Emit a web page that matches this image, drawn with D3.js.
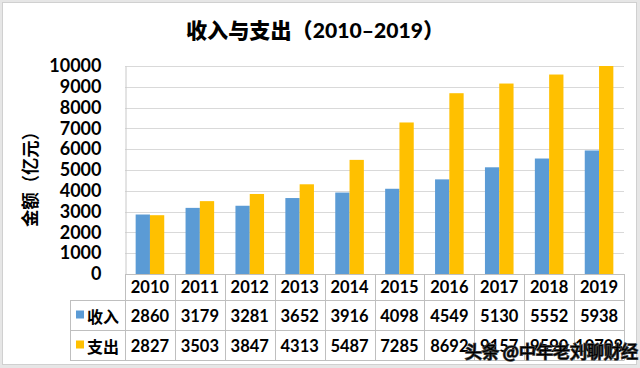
<!DOCTYPE html>
<html><head><meta charset="utf-8">
<script src="https://cdn.jsdelivr.net/npm/d3@7"></script>
<style>
html,body{margin:0;padding:0;background:#fff;}
text{font-family:"Lato","Noto Sans CJK SC",sans-serif;font-weight:bold;fill:#000;}
</style></head>
<body>
<svg id="c" width="640" height="368"></svg>
<script>
const years = ["2010","2011","2012","2013","2014","2015","2016","2017","2018","2019"];
const seriesNames = ["收入","支出"];
const income = [2860,3179,3281,3652,3916,4098,4549,5130,5552,5938];
const expense = [2827,3503,3847,4313,5487,7285,8692,9157,9590,10708];
const yTicks = [0,1000,2000,3000,4000,5000,6000,7000,8000,9000,10000];
const colors = ["#5B9BD5","#FFC000"];
const title = "收入与支出（2010–2019）";
const yLabel = "金额（亿元）";
const watermark = "头条 @中年老刘聊财经";

(function(){
const svg = d3.select("#c");
svg.append("rect").attr("x",0).attr("y",0).attr("width",640).attr("height",368).attr("fill","#e6e6e6");
svg.append("rect").attr("x",2.5).attr("y",2.5).attr("width",634).attr("height",362).attr("fill","#fff").attr("stroke","#d0d0d0");

const pL=125,pR=624,pT=66,pB=274;
const x = d3.scaleBand().domain(years).range([pL,pR]).paddingInner(0.427).paddingOuter(0.2135);
const xs = d3.scaleBand().domain(seriesNames).range([0,x.bandwidth()]);
const y = d3.scaleLinear().domain([0,10000]).range([pB,pT]).clamp(true);

// gridlines
svg.append("g").selectAll("line").data(yTicks.filter(d=>d>0)).join("line")
  .attr("x1",pL).attr("x2",pR).attr("y1",d=>Math.round(y(d))+0.5).attr("y2",d=>Math.round(y(d))+0.5)
  .attr("stroke","#d9d9d9").attr("stroke-width",1);

// y axis
const yAxis = d3.axisLeft(y).tickValues(yTicks).tickFormat(d3.format("d")).tickSize(0).tickPadding(24);
const ga = svg.append("g").attr("transform",`translate(${pL+0.5},0)`).call(yAxis);
ga.select(".domain").attr("stroke","#c8c8c8");
ga.selectAll("text").style("font-size","18px").style("font-family","Lato, sans-serif").style("font-weight","bold").attr("fill","#000");

// bars
const data = years.map((yr,i)=>({yr, vals:[income[i],expense[i]]}));
const g = svg.append("g");
data.forEach(d=>{
  d.vals.forEach((v,j)=>{
    g.append("rect").attr("x",x(d.yr)+xs(seriesNames[j])).attr("width",xs.bandwidth())
      .attr("y",y(v)).attr("height",pB-y(v)).attr("fill",colors[j]);
  });
});

// table
const step = x.step();
const tg = svg.append("g");
const lc="#bfbfbf";
tg.append("line").attr("x1",pL).attr("x2",pR).attr("y1",pB+0.5).attr("y2",pB+0.5).attr("stroke",lc);
[300,330,360].forEach(yy=>tg.append("line").attr("x1",70).attr("x2",pR).attr("y1",yy+0.5).attr("y2",yy+0.5).attr("stroke",lc));
tg.append("line").attr("x1",70.5).attr("x2",70.5).attr("y1",300).attr("y2",360.5).attr("stroke",lc);
d3.range(years.length+1).forEach(i=>{
  const xx = Math.round(pL+i*step)+0.5;
  tg.append("line").attr("x1",xx).attr("x2",xx).attr("y1",pB).attr("y2",360.5).attr("stroke",lc);
});
years.forEach((yr,i)=>{
  const cx = x(yr)+x.bandwidth()/2;
  tg.append("text").attr("x",cx).attr("y",287).attr("text-anchor","middle").attr("dominant-baseline","central").style("font-size","16.5px").text(yr);
  tg.append("text").attr("x",cx).attr("y",315.5).attr("text-anchor","middle").attr("dominant-baseline","central").style("font-size","16.5px").text(income[i]);
  tg.append("text").attr("x",cx).attr("y",345.5).attr("text-anchor","middle").attr("dominant-baseline","central").style("font-size","16.5px").text(expense[i]);
});
seriesNames.forEach((s,j)=>{
  const cy = 315.5+j*30;
  tg.append("rect").attr("x",76).attr("y",cy-5).attr("width",8).attr("height",8).attr("fill",colors[j]);
  tg.append("text").attr("x",87).attr("y",cy).attr("dominant-baseline","central").style("font-size","16px")
    .style("font-family","'Noto Sans CJK SC',sans-serif").text(s);
});

// title
svg.append("text").attr("x",315).attr("y",29).attr("text-anchor","middle").attr("dominant-baseline","central")
  .attr("textLength",258).attr("lengthAdjust","spacingAndGlyphs")
  .style("font-size","21px").style("font-weight","900").text(title);

// y label
svg.append("text").attr("transform","translate(29,175) rotate(-90)").attr("text-anchor","middle").attr("dominant-baseline","central")
  .attr("textLength",104).attr("lengthAdjust","spacingAndGlyphs")
  .style("font-size","18px").style("font-family","'Noto Sans CJK SC',sans-serif").style("font-weight","bold").text(yLabel);

// watermark
svg.append("text").attr("x",465).attr("y",350).attr("dominant-baseline","central")
  .style("font-size","17px").style("font-weight","normal").style("font-family","'Noto Sans CJK SC',sans-serif")
  .attr("fill","#fff").attr("stroke","#444").attr("stroke-width",1.6).attr("paint-order","stroke")
  .text(watermark);
})();
</script>
</body></html>
